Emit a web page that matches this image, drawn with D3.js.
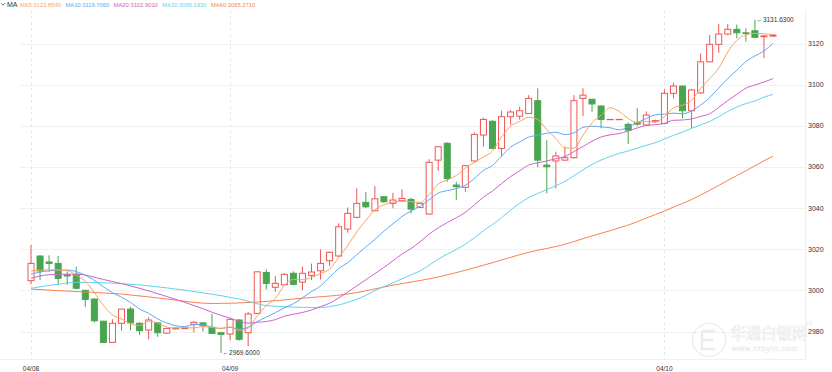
<!DOCTYPE html>
<html>
<head>
<meta charset="utf-8">
<script src="https://cdn.jsdelivr.net/npm/d3@7"></script>
<style>
  body { margin: 0; background: #fff; }
  svg { display: block; font-family: "Liberation Sans", Arial, sans-serif; }
</style>
</head>
<body>
<div id="chart"></div>
<script>
// candles (red = up, hollow; green = down, filled)
var opens = [3004.7,3016.7,3013.8,3013.1,3007.5,3007.8,3000.0,2995.8,2985.0,2974.7,
  2984.0,2990.9,2984.0,2980.7,2984.2,2979.2,2981.3,2981.4,2983.5,2984.2,
  2982.0,2979.4,2978.8,2985.6,2979.4,2988.8,3008.7,3001.5,3002.7,3008.3,
  3004.0,3007.3,3009.5,3014.4,3016.7,3029.8,3035.5,3042.8,3038.7,3045.5,
  3042.3,3043.6,3044.2,3040.3,3037.1,3063.3,3071.5,3051.2,3050.1,3062.9,
  3075.5,3082.2,3069.0,3084.4,3084.7,3086.0,3092.2,3060.9,3062.9,3063.3,
  3064.5,3093.3,3092.9,3089.6,3083.0,3083.0,3080.7,3081.5,3080.4,3082.0,
  3081.2,3095.8,3099.3,3087.3,3096.0,3111.1,3119.6,3124.6,3126.9,3125.2,
  3126.2,3123.3,3123.6];
var highs = [3022.0,3017.0,3017.0,3016.7,3009.3,3011.5,3000.3,2996.0,2985.2,2986.0,
  2991.0,2992.0,2984.5,2987.0,2984.5,2981.8,2982.0,2981.8,2985.0,2984.5,
  2988.5,2979.6,2986.2,2986.0,2989.5,3009.3,3010.2,3007.0,3008.3,3009.2,
  3011.5,3013.0,3019.9,3019.0,3032.6,3040.3,3049.6,3047.8,3050.7,3046.0,
  3047.4,3049.2,3045.0,3043.0,3063.7,3070.0,3072.0,3052.8,3061.0,3076.8,
  3083.9,3082.7,3087.3,3087.6,3089.3,3094.9,3098.2,3073.0,3067.4,3069.8,
  3094.9,3098.2,3093.0,3090.0,3083.3,3083.3,3081.5,3088.5,3087.0,3083.0,
  3097.7,3100.9,3099.5,3097.8,3115.2,3124.1,3129.5,3129.5,3129.2,3127.4,
  3131.63,3124.0,3124.5];
var lows = [3002.9,3005.0,3009.0,3002.6,3002.6,3000.5,2992.0,2984.4,2974.5,2974.7,
  2980.4,2980.6,2978.3,2976.2,2977.4,2979.0,2981.0,2981.2,2979.5,2980.0,
  2978.8,2969.6,2975.8,2975.5,2972.9,2988.5,3000.5,2999.3,3002.5,3002.5,
  3000.1,3005.0,3005.3,3011.8,3016.3,3028.0,3035.0,3040.0,3038.5,3042.5,
  3039.9,3043.0,3037.4,3040.0,3036.8,3058.1,3052.8,3043.9,3047.9,3062.5,
  3069.8,3068.8,3065.3,3080.4,3083.0,3085.8,3059.8,3047.2,3049.6,3063.0,
  3064.0,3084.7,3086.8,3078.8,3082.9,3082.9,3071.1,3080.0,3080.0,3081.5,
  3081.0,3093.3,3083.6,3078.8,3095.5,3110.8,3115.5,3124.0,3122.5,3120.9,
  3122.5,3112.8,3123.3];
var closes = [3013.1,3009.4,3013.1,3005.8,3007.0,3001.0,2995.6,2985.2,2974.7,2984.0,
  2990.9,2984.2,2980.4,2985.6,2979.4,2981.5,2981.6,2981.6,2984.5,2983.0,
  2979.1,2978.6,2985.9,2976.2,2988.5,3009.0,3003.4,3003.4,3007.8,3002.9,
  3008.3,3008.9,3013.1,3018.5,3030.9,3037.4,3042.3,3040.6,3044.5,3043.1,
  3043.9,3044.7,3039.5,3042.3,3062.2,3069.8,3054.4,3050.4,3060.6,3075.8,
  3083.1,3069.0,3084.4,3086.7,3087.3,3093.3,3063.3,3060.1,3065.3,3064.5,
  3092.2,3094.9,3090.6,3083.1,3083.1,3083.1,3077.9,3080.8,3085.2,3082.5,
  3095.8,3099.3,3087.3,3097.4,3111.1,3119.6,3124.6,3126.9,3125.2,3124.9,
  3123.0,3123.7,3124.1];

// day labels: [candle index, label]
var dayLabels = [[0, "04/08"], [22, "04/09"], [70, "04/10"]];
var yTicks = [2980, 3000, 3020, 3040, 3060, 3080, 3100, 3120];

var ma5Early = [[0, 3009.5], [2, 3010.0]];
var ma10Early = [[0, 3007.9], [2, 3009.5], [4, 3009.9], [6, 3007.4]];
var ma20Early = [[0, 3005.8], [2, 3007.6], [5, 3007.9], [8, 3005.3], [12, 3001.0], [15, 2997.0]];
var ma30Early = [[0, 3001.0], [3, 3003.0], [5, 3003.9], [8, 3003.7], [12, 3002.6], [15, 3001.2],
  [19, 2998.8], [23, 2995.8], [26, 2992.6]];
var ma60Early = [[0, 3000.6], [5, 2999.4], [10, 2998.2], [15, 2995.8], [20, 2993.6], [25, 2994.3],
  [30, 2996.2], [35, 2998.2], [40, 3002.5], [45, 3006.5], [50, 3012.2], [55, 3018.5]];

// legend text as shown
var maNames = ["MA5", "MA10", "MA20", "MA30", "MA60"];
var maLegendValues = [3123.8540, 3119.7060, 3102.9010, 3095.1930, 3065.2710];
var maPeriods = [5, 10, 20, 30, 60];
var maColors = ["#f9a35f", "#5ea8f5", "#d061cb", "#62d2ee", "#fb804f"];
var maEarly = [ma5Early, ma10Early, ma20Early, ma30Early, ma60Early];

var upColor = "#ee5656",
    downColor = "#47a64f";

var width = 832, height = 372;

var svg = d3.select("#chart").append("svg")
  .attr("width", width)
  .attr("height", height);

var x = d3.scaleLinear().domain([0, closes.length - 1]).range([31, 773]);
var y = d3.scaleLinear().domain([2980, 3120]).range([331.5, 43.5]);

// frame + grid
svg.append("line")
  .attr("x1", 805.5).attr("x2", 805.5).attr("y1", 10).attr("y2", 360)
  .attr("stroke", "#eeeeee");
svg.append("line")
  .attr("x1", 0).attr("x2", 805.5).attr("y1", 359.5).attr("y2", 359.5)
  .attr("stroke", "#f0f0f0");

svg.append("g")
  .selectAll("line")
  .data(yTicks)
  .enter().append("line")
    .attr("x1", 20).attr("x2", 805)
    .attr("y1", function(d) { return Math.round(y(d)) + 0.5; })
    .attr("y2", function(d) { return Math.round(y(d)) + 0.5; })
    .attr("stroke", "#f1f1f1");

svg.append("g")
  .selectAll("line")
  .data(dayLabels)
  .enter().append("line")
    .attr("x1", function(d) { return Math.round(x(d[0])) + 0.5; })
    .attr("x2", function(d) { return Math.round(x(d[0])) + 0.5; })
    .attr("y1", 10).attr("y2", 360)
    .attr("stroke", "#e6e6e6")
    .attr("stroke-dasharray", "3,3");

// watermark
var wm = svg.append("g").attr("fill", "#fff").attr("stroke", "#ebebeb").attr("stroke-width", 0.7);
wm.append("circle").attr("cx", 709).attr("cy", 340).attr("r", 16.5).attr("fill", "none").attr("stroke-width", 1.2);
wm.append("path").attr("d", "M702,331 h13 M702,331 v18 h13 M702,340 h11").attr("fill", "none").attr("stroke-width", 2.5);
wm.append("text").attr("x", 730).attr("y", 339).attr("font-size", 15.5).attr("font-family", "Noto Sans CJK SC").text("华通白银网");
wm.append("text").attr("x", 806).attr("y", 325).attr("font-size", 4.5).attr("stroke", "none").attr("fill", "#e0e0e0").text("2.0");
wm.append("text").attr("x", 732).attr("y", 351).attr("font-size", 8).attr("letter-spacing", 0.6).attr("stroke-width", 0.5).text("www.htbyin.com");

// y labels
svg.append("g")
  .selectAll("text")
  .data(yTicks)
  .enter().append("text")
    .attr("x", 808)
    .attr("y", function(d) { return y(d); })
    .attr("dy", "0.35em")
    .attr("font-size", 7)
    .attr("fill", "#333")
    .text(function(d) { return d; });

// x labels
svg.append("g")
  .selectAll("text")
  .data(dayLabels)
  .enter().append("text")
    .attr("x", function(d) { return x(d[0]); })
    .attr("y", 370.5)
    .attr("text-anchor", "middle")
    .attr("font-size", 6.5)
    .attr("fill", "#333")
    .text(function(d) { return d[1]; });

// candles
var candles = d3.range(closes.length);
var cg = svg.append("g");

cg.selectAll("line")
  .data(candles)
  .enter().append("line")
    .attr("x1", function(i) { return x(i); })
    .attr("x2", function(i) { return x(i); })
    .attr("y1", function(i) { return y(highs[i]); })
    .attr("y2", function(i) { return y(lows[i]); })
    .attr("stroke", function(i) { return closes[i] >= opens[i] ? upColor : downColor; });

cg.selectAll("rect")
  .data(candles)
  .enter().append("rect")
    .attr("x", function(i) { return x(i) - 3; })
    .attr("width", 6)
    .attr("y", function(i) { return y(Math.max(opens[i], closes[i])); })
    .attr("height", function(i) { return Math.max(0.3, Math.abs(y(opens[i]) - y(closes[i]))); })
    .attr("fill", function(i) { return closes[i] >= opens[i] ? "#fff" : downColor; })
    .attr("stroke", function(i) { return closes[i] >= opens[i] ? upColor : downColor; });

// moving averages
function movingAvg(period, early) {
  var pts = early.slice();
  for (var i = period - 1; i < closes.length; i++) {
    pts.push([i, d3.mean(closes.slice(i - period + 1, i + 1))]);
  }
  return pts;
}

var line = d3.line()
  .x(function(d) { return x(d[0]); })
  .y(function(d) { return y(d[1]); })
  .curve(d3.curveMonotoneX);

maPeriods.slice().reverse().forEach(function(p, k) {
  var m = maPeriods.length - 1 - k;
  svg.append("path")
    .datum(movingAvg(p, maEarly[m]))
    .attr("d", line)
    .attr("fill", "none")
    .attr("stroke", maColors[m])
    .attr("stroke-width", 1);
});

// extremes
var iMin = d3.minIndex(lows), iMax = d3.maxIndex(highs);
svg.append("text")
  .attr("x", x(iMin) + 1.5).attr("y", y(lows[iMin]))
  .attr("dy", "0.35em")
  .attr("font-size", 6.5).attr("fill", "#333")
  .text("\u2190" + lows[iMin].toFixed(4));
svg.append("text")
  .attr("x", x(iMax) + 1.5).attr("y", y(highs[iMax]))
  .attr("dy", "0.35em")
  .attr("font-size", 6.5).attr("fill", "#333")
  .text("\u2190" + highs[iMax].toFixed(4));

// top legend
svg.append("path")
  .attr("d", "M1.2,3.3 L2.9,5.2 L4.6,3.3")
  .attr("fill", "none").attr("stroke", "#555").attr("stroke-width", 0.8);
svg.append("text")
  .attr("x", 7).attr("y", 7.3)
  .attr("font-size", 7).attr("fill", "#333")
  .text("MA");

var lx = 20;
maNames.forEach(function(name, m) {
  var t = svg.append("text")
    .attr("x", lx).attr("y", 6.6)
    .attr("font-size", 5.8)
    .attr("fill", maColors[m])
    .text(name + ":" + maLegendValues[m].toFixed(4));
  lx += t.node().getComputedTextLength() + 4.5;
});
</script>
</body>
</html>
